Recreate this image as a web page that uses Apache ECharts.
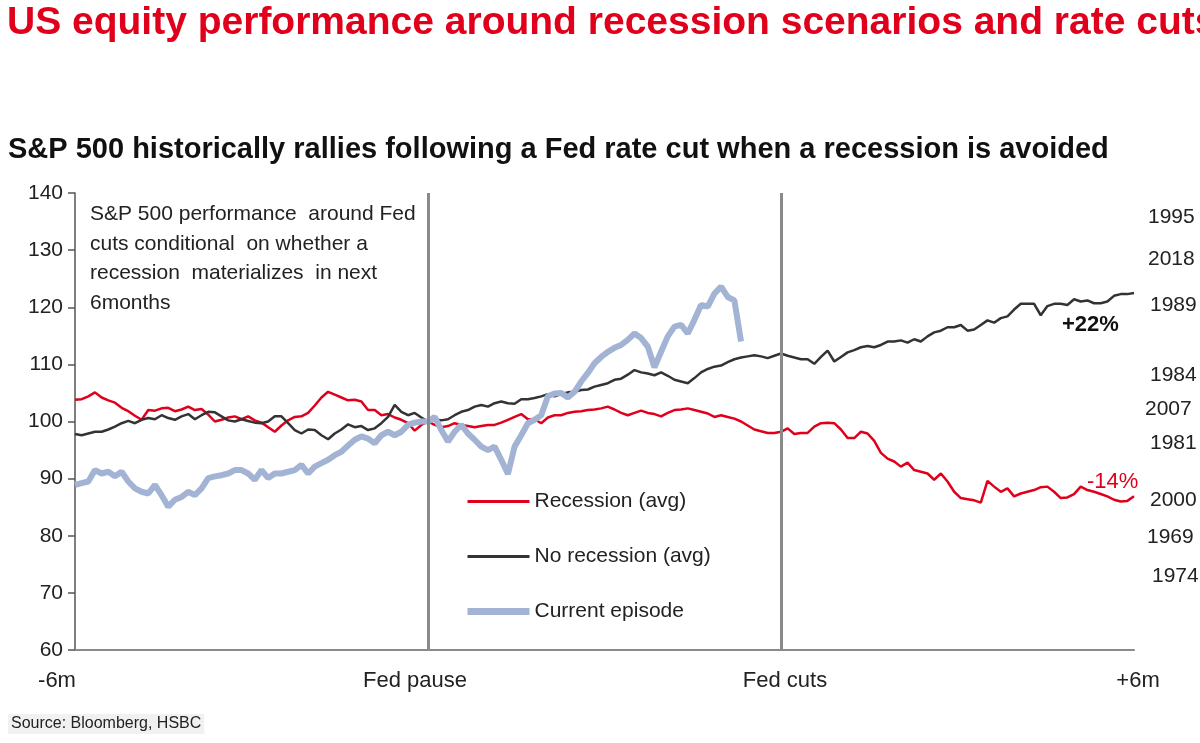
<!DOCTYPE html>
<html><head><meta charset="utf-8">
<script src="https://cdn.jsdelivr.net/npm/echarts@6/dist/echarts.min.js"></script>
<style>html,body{margin:0;padding:0;background:#fff}#c{width:1200px;height:743px}</style>
</head><body><div id="c"></div>
<script>
// ---- data ----
const xTickLabels = ['-6m', 'Fed pause', 'Fed cuts', '+6m'];
const xTickValues = [0, 53, 106, 159];
const seriesNames = ['Recession (avg)', 'No recession (avg)', 'Current episode'];

const recession = [
  103.8,103.9,104.4,105.1,104.2,103.7,103.3,102.4,101.8,101.0,100.3,102.0,101.9,102.3,102.4,101.8,102.1,102.6,102.0,102.2,
  101.2,100.0,100.3,100.7,100.9,100.4,100.9,100.2,99.8,99.0,98.2,99.3,100.2,100.8,100.9,101.5,102.8,104.2,105.2,104.7,
  104.2,103.7,103.8,103.5,102.0,102.0,101.1,101.3,100.7,100.3,99.7,98.4,99.4,100.0,99.4,99.0,99.2,99.7,99.4,99.2,
  99.0,99.2,99.4,99.4,99.8,100.3,100.8,101.3,100.4,100.4,99.7,100.7,101.1,101.1,101.5,101.7,101.8,102.0,102.1,102.3,
  102.6,102.1,101.5,101.1,101.5,101.9,101.5,101.3,100.9,101.5,102.0,102.1,102.3,102.0,101.7,101.4,100.8,101.1,100.8,100.5,
  100.0,99.3,98.6,98.3,98.0,98.0,98.2,98.8,97.8,98.0,98.0,99.1,99.7,99.8,99.7,98.6,97.1,97.1,98.2,97.9,
  96.6,94.5,93.5,93.0,92.1,92.8,91.5,91.2,90.9,89.8,90.9,89.5,87.7,86.6,86.4,86.2,85.8,89.6,88.6,87.7,
  88.3,86.9,87.4,87.7,88.0,88.5,88.6,87.7,86.6,86.7,87.3,88.6,88.0,87.7,87.3,86.9,86.3,86.0,86.1,86.9
];

const noRecession = [
  97.8,97.6,97.9,98.2,98.2,98.6,99.1,99.7,100.1,99.7,100.3,100.6,100.4,101.1,100.6,100.3,100.9,101.3,100.4,101.1,
  101.7,101.6,100.9,100.2,100.0,100.4,100.1,99.8,99.7,100.0,100.9,100.9,99.7,98.5,97.9,98.6,98.5,97.6,96.9,97.9,
  98.6,99.5,99.0,99.2,98.5,98.8,99.7,100.8,102.9,101.7,101.1,101.5,100.7,100.0,100.3,100.2,100.4,101.1,101.7,102.0,
  102.6,102.9,102.6,103.2,103.5,103.2,103.1,103.9,103.9,104.1,104.4,104.8,104.4,104.8,105.1,105.2,105.5,105.6,106.1,106.4,
  106.7,107.3,107.5,108.2,109.0,108.6,108.4,108.1,108.6,108.0,107.3,107.0,106.7,107.6,108.6,109.2,109.6,109.8,110.4,110.9,
  111.2,111.4,111.6,111.4,111.1,111.5,111.9,111.5,111.2,110.9,110.9,110.1,111.3,112.4,110.5,111.3,112.1,112.5,113.0,113.2,
  113.0,113.4,114.0,114.0,114.2,113.8,114.4,114.0,114.9,115.6,115.9,116.5,116.5,116.9,115.9,116.1,116.9,117.7,117.3,118.1,
  118.4,119.6,120.6,120.6,120.6,118.6,120.2,120.6,120.6,120.4,121.4,121.0,121.2,120.7,120.7,121.0,122.0,122.3,122.3,122.5
];

const current = [
  88.9,89.2,89.5,91.5,90.9,91.2,90.4,91.2,89.5,88.3,87.7,87.4,88.9,87.1,85.1,86.3,86.8,87.7,87.1,88.3,
  90.1,90.4,90.6,90.9,91.5,91.5,90.9,89.8,91.5,90.1,90.9,90.9,91.2,91.5,92.4,90.9,92.1,92.7,93.3,94.1,
  94.7,95.8,96.8,97.4,97.0,96.2,97.6,98.2,97.6,98.2,99.4,99.8,100.0,100.0,100.8,98.5,96.5,98.2,99.4,97.9,
  96.8,95.6,95.0,95.6,93.3,90.8,95.6,97.6,99.7,100.3,101.1,104.4,104.9,105.0,104.2,105.2,107.0,108.5,110.2,111.3,
  112.2,112.9,113.4,114.3,115.4,114.6,113.1,109.5,112.2,114.9,116.6,116.9,115.4,117.8,120.4,120.1,122.4,123.6,121.8,121.2,
  114.0
];

const years = ['1995','2018','1989','1984','2007','1981','2000','1969','1974'];
const endLabels = ['+22%', '-14%'];
const noteLines = ['S&P 500 performance  around Fed', 'cuts conditional  on whether a', 'recession  materializes  in next', '6months'];

// ---- layout / style ----
const FONT = "'Liberation Sans',Arial,sans-serif";
const RED = '#e0001b';
const BLACK = '#333';
const BLUE = '#a2b3d3';
const yearLayout = [[1148,207],[1148,249],[1150,295],[1150,365],[1145,399],[1150,433],[1150,490],[1147,527],[1152,566]];
const shift = [[0,36,0,0],[0,26,0,0],[0,0,0,8],[0,0,0,8]];

const toPairs = arr => arr.map((v, i) => [i, v]);

const rich = {};
xTickLabels.forEach((t, i) => { rich['l' + i] = { fontFamily: FONT, fontSize: 22, color: '#222', padding: shift[i] }; });

const graphics = [
  { type: 'text', left: 7, top: 4, style: { text: 'US equity performance around recession scenarios and rate cuts', font: 'bold 39px ' + FONT, fill: RED } },
  { type: 'text', left: 8, top: 135, style: { text: 'S&P 500 historically rallies following a Fed rate cut when a recession is avoided', font: 'bold 29px ' + FONT, fill: '#111' } },
  { type: 'text', left: 8, top: 714, style: { text: 'Source: Bloomberg, HSBC', font: '16px ' + FONT, fill: '#222', backgroundColor: '#f1f1f1', padding: [2, 3] } },
  { type: 'text', left: 1062, top: 314, style: { text: endLabels[0], font: 'bold 22px ' + FONT, fill: '#111' } },
  { type: 'text', left: 1087, top: 471, style: { text: endLabels[1], font: '22px ' + FONT, fill: RED } }
];
noteLines.forEach((t, i) => graphics.push({ type: 'text', left: 90, top: 204 + i * 29.5, style: { text: t, font: '21px ' + FONT, fill: '#222' } }));
years.forEach((y, i) => graphics.push({ type: 'text', left: yearLayout[i][0], top: yearLayout[i][1], style: { text: y, font: '21px ' + FONT, fill: '#222' } }));

const chart = echarts.init(document.getElementById('c'), null, { renderer: 'canvas' });
chart.setOption({
  animation: false,
  backgroundColor: '#fff',
  grid: { left: 75, right: 66, top: 193, bottom: 93, containLabel: false },
  xAxis: {
    type: 'value', min: 0, max: 159, interval: 53,
    axisLine: { show: true, lineStyle: { color: '#8a8a8a', width: 2 } },
    axisTick: { show: false }, splitLine: { show: false },
    axisLabel: {
      margin: 20, showMinLabel: true, showMaxLabel: true,
      formatter: v => { const i = xTickValues.indexOf(v); return i < 0 ? '' : '{l' + i + '|' + xTickLabels[i] + '}'; },
      rich: rich
    }
  },
  yAxis: {
    type: 'value', min: 60, max: 140, interval: 10,
    axisLine: { show: true, lineStyle: { color: '#555', width: 1.5 } },
    axisTick: { show: true, inside: false, length: 7, lineStyle: { color: '#555', width: 1.5 } },
    splitLine: { show: false },
    axisLabel: { margin: 12, fontFamily: FONT, fontSize: 21, color: '#222' }
  },
  legend: {
    orient: 'vertical', left: 459, top: 486, itemWidth: 62, itemHeight: 14, itemGap: 34,
    itemStyle: { opacity: 0 },
    textStyle: { fontFamily: FONT, fontSize: 21, color: '#222' },
    data: [
      { name: seriesNames[0], lineStyle: { width: 3, color: RED } },
      { name: seriesNames[1], lineStyle: { width: 3, color: BLACK } },
      { name: seriesNames[2], lineStyle: { width: 7, color: BLUE } }
    ]
  },
  graphic: graphics,
  series: [
    {
      name: seriesNames[0], type: 'line', data: toPairs(recession), symbol: 'none',
      lineStyle: { color: RED, width: 2.5 }, itemStyle: { color: RED },
      markLine: {
        silent: true, symbol: ['none', 'none'], label: { show: false },
        lineStyle: { color: '#8a8a8a', width: 3, type: 'solid' },
        data: [{ xAxis: xTickValues[1] }, { xAxis: xTickValues[2] }]
      }
    },
    {
      name: seriesNames[1], type: 'line', data: toPairs(noRecession), symbol: 'none',
      lineStyle: { color: BLACK, width: 2.5 }, itemStyle: { color: BLACK }
    },
    {
      name: seriesNames[2], type: 'line', data: toPairs(current), symbol: 'none',
      lineStyle: { color: BLUE, width: 6 }, itemStyle: { color: BLUE }
    }
  ]
});
</script></body></html>
